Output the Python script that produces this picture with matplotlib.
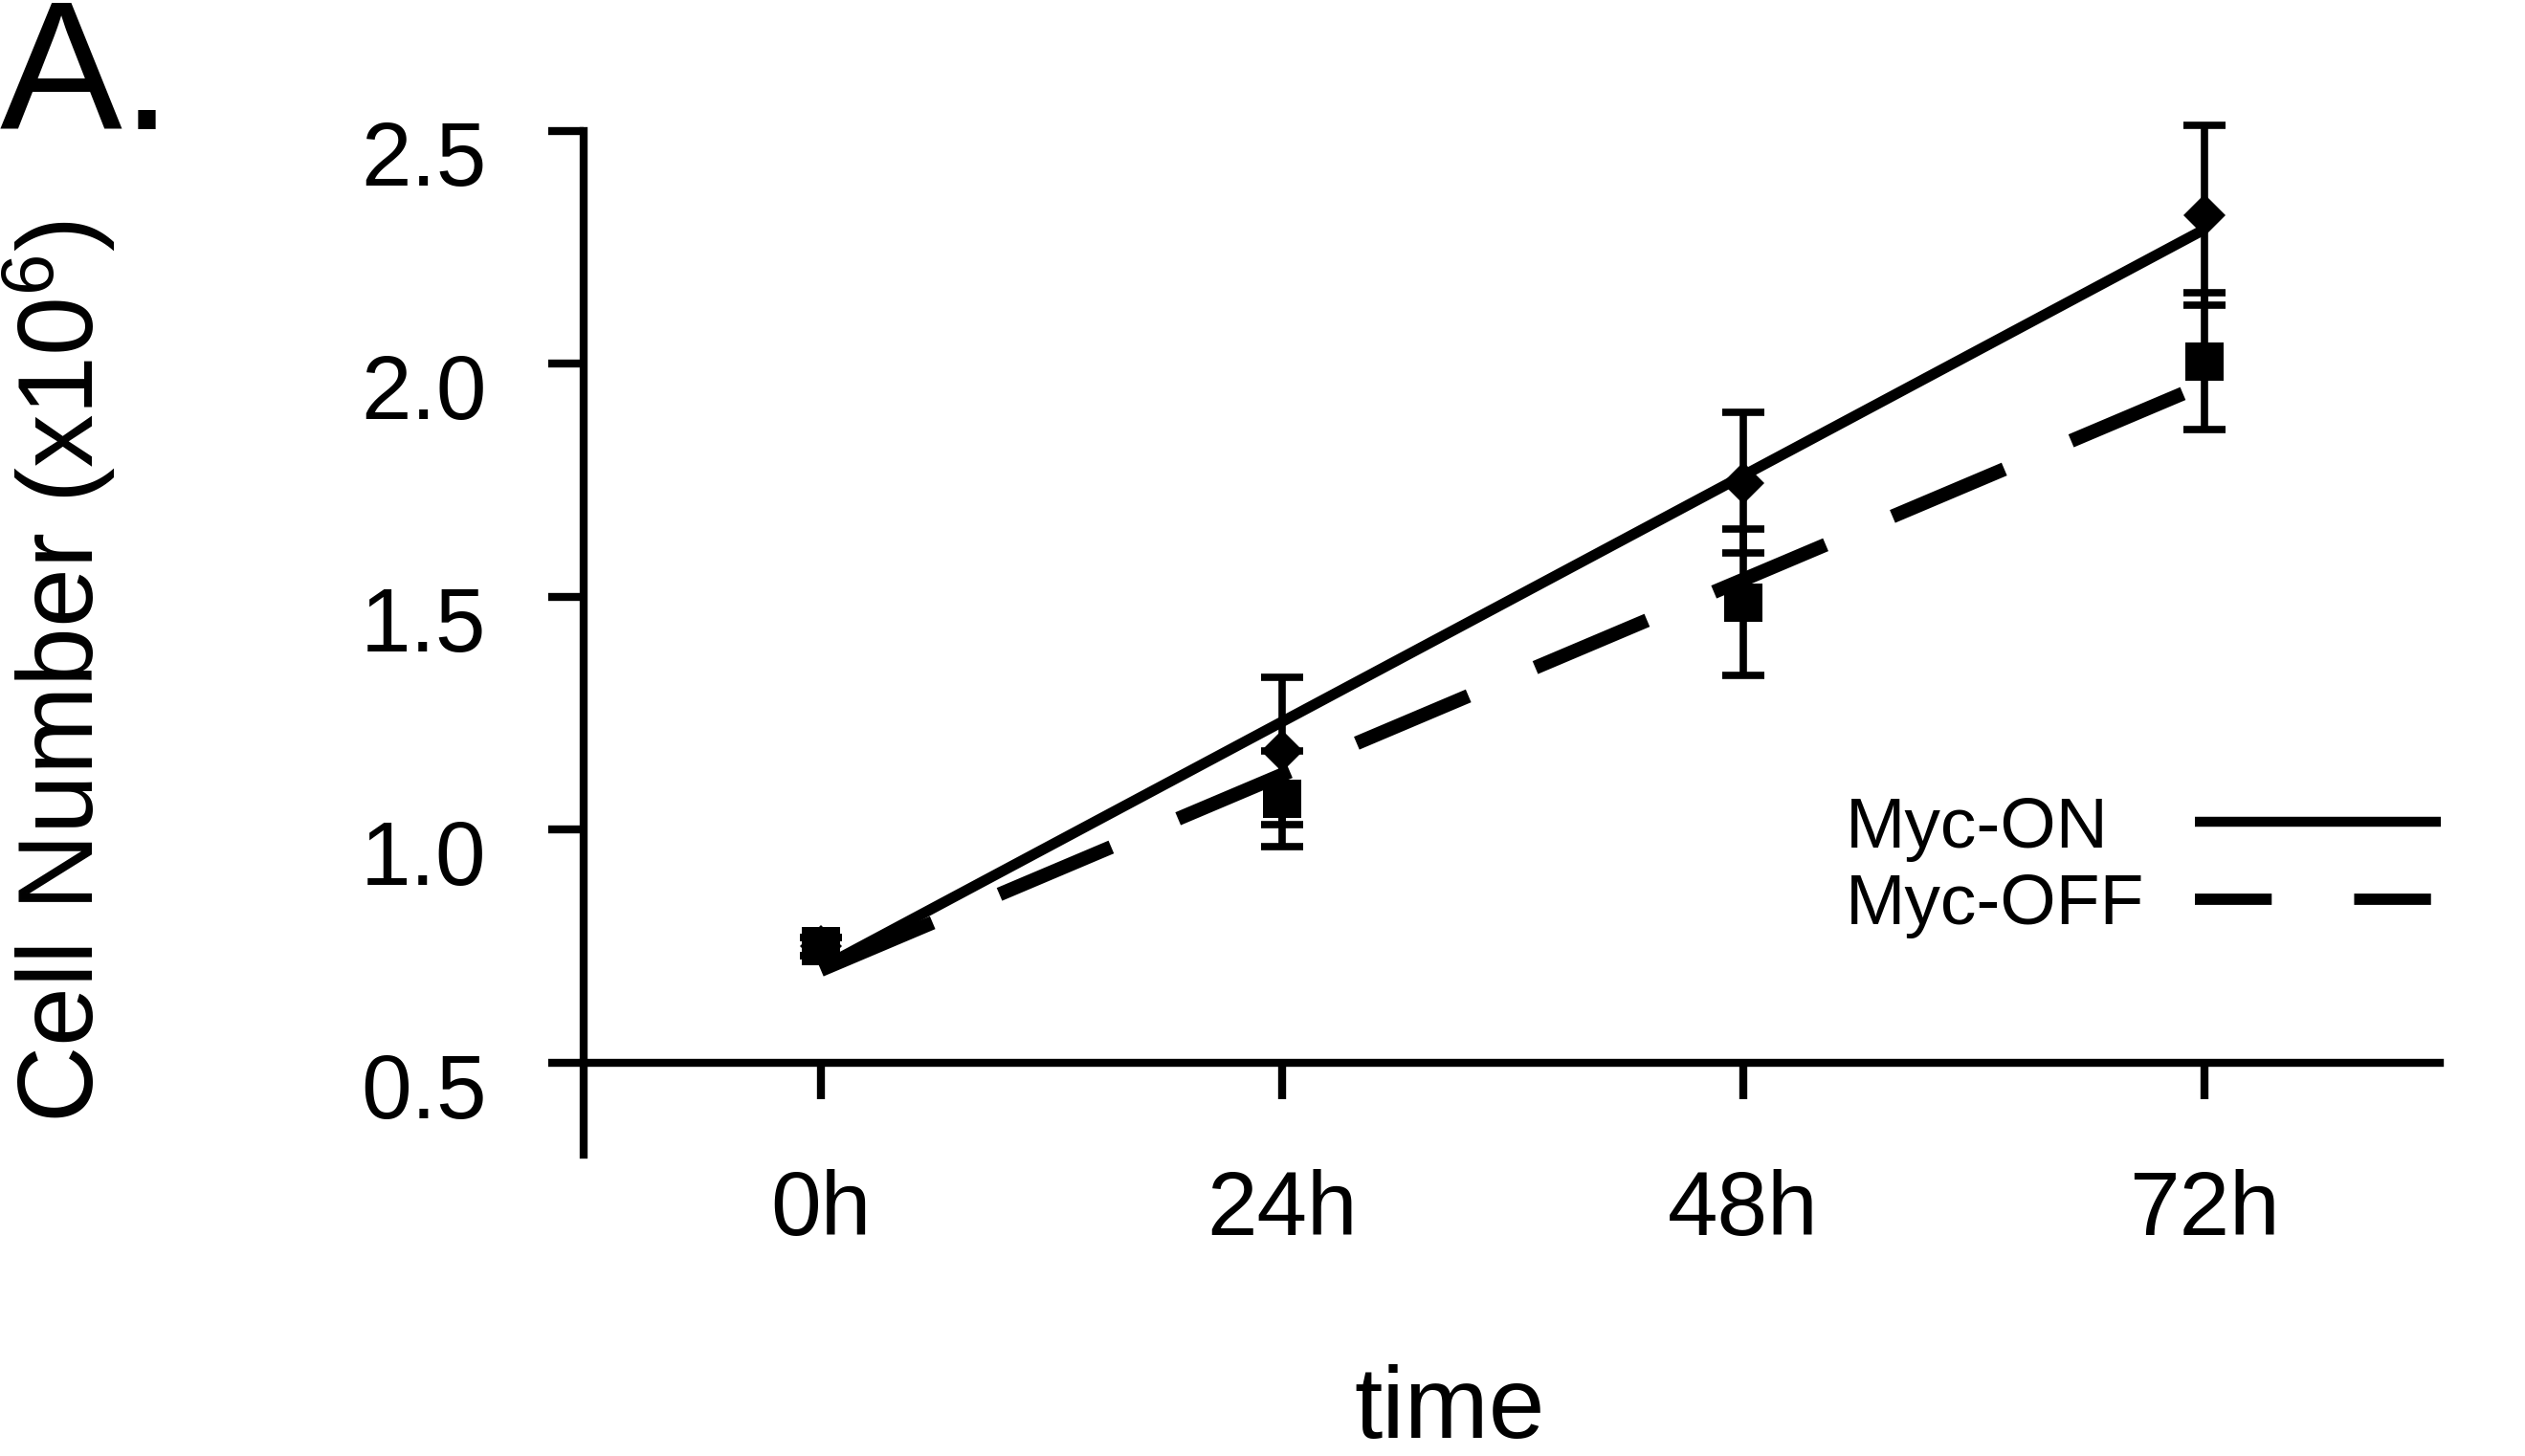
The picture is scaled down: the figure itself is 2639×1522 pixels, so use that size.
import numpy as np
import matplotlib
matplotlib.use('Agg')
import matplotlib.pyplot as plt
from matplotlib.lines import Line2D
from matplotlib.transforms import ScaledTranslation

plt.rcParams['font.family'] = ['Liberation Sans', 'DejaVu Sans']
plt.rcParams['mathtext.default'] = 'regular'

# ─── data (cells x10^6) ───
time_labels = ["0h", "24h", "48h", "72h"]
myc_on = [0.75, 1.17, 1.745, 2.32]
myc_on_err = [0.02, 0.158, 0.151, 0.193]
myc_off = [0.75, 1.067, 1.488, 2.006]
myc_off_err = [0.02, 0.103, 0.157, 0.147]
y_ticks = [0.5, 1.0, 1.5, 2.0, 2.5]
series_labels = ["Myc-ON", "Myc-OFF"]

x = np.arange(len(time_labels))

fig = plt.figure(figsize=(26.39, 15.22), dpi=100)
ax = fig.add_axes([0.2311, 0.2070, 0.7351, 0.7030])

# error bars
err_kw = dict(fmt='none', ecolor='black', elinewidth=5.5, capsize=16, capthick=5.5)
for vals, errs in [(myc_on, myc_on_err), (myc_off, myc_off_err)]:
    eb = ax.errorbar(x, vals, yerr=errs, **err_kw)
    for art in eb.lines[1] + eb.lines[2]:
        art.set_clip_on(False)

# linear trendlines
on_fit = np.polyval(np.polyfit(x, myc_on, 1), x)
off_fit = np.polyval(np.polyfit(x, myc_off, 1), x)
ax.plot(x, on_fit, color='black', lw=8, solid_capstyle='butt')
ax.plot(x, off_fit, color='black', lw=10.5, dashes=(8.7, 5.2), dash_capstyle='butt')

# markers
ax.plot(x, myc_on, 'D', ms=22, color='black', mew=0, clip_on=False)
ax.plot(x, myc_off, 's', ms=29.5, color='black', mew=0)

# axes, R-like style
ax.set_xlim(-0.5145, 3.51)
ax.set_ylim(0.303, 2.5)
for s in ['top', 'right']:
    ax.spines[s].set_visible(False)
ax.spines['bottom'].set_position(('data', 0.5))
for s in ['left', 'bottom']:
    ax.spines[s].set_linewidth(6)

ax.set_xticks(x)
ax.set_xticklabels(time_labels)
ax.set_yticks(y_ticks)
ax.set_yticklabels([f"{v:.1f}" for v in y_ticks])
ax.tick_params(axis='both', direction='out', length=27, width=6, labelsize=68, color='black')
ax.tick_params(axis='x', pad=53)
ax.tick_params(axis='y', pad=46)

shift = ScaledTranslation(0, -0.23, fig.dpi_scale_trans)
for lbl in ax.get_yticklabels():
    lbl.set_transform(lbl.get_transform() + shift)

ax.set_xlabel('time', fontsize=76)
ax.xaxis.set_label_coords(0.4665, -0.2766)
ax.xaxis.label.set_va('baseline')

ax.set_ylabel('Cell Number (x10$^{6}$)', fontsize=80)
ax.yaxis.set_label_coords(-0.2825, 0.472)
ax.yaxis.label.set_va('center')

# legend: labels left, line keys right
handles = [
    Line2D([], [], color='black', lw=7.5, solid_capstyle='butt'),
    Line2D([], [], color='black', lw=8.5, dashes=(6.8, 7.3), dash_capstyle='butt'),
]
leg = ax.legend(handles, series_labels, loc='center left', bbox_to_anchor=(0.680, 0.281),
                frameon=False, markerfirst=False, fontsize=54, handlelength=3.43,
                handletextpad=0.7, labelspacing=0.15, borderpad=0, borderaxespad=0)

fig.canvas.draw()
renderer = fig.canvas.get_renderer()
widths = [t.get_window_extent(renderer).width for t in leg.get_texts()]
rows = leg._legend_handle_box.get_children()[0].get_children()
rows[0].sep += (widths[1] - widths[0]) / (fig.dpi / 72.0)

fig.text(0.0, 0.911, 'A.', fontsize=138, ha='left', va='baseline')

fig.savefig('out.png', dpi=100)
